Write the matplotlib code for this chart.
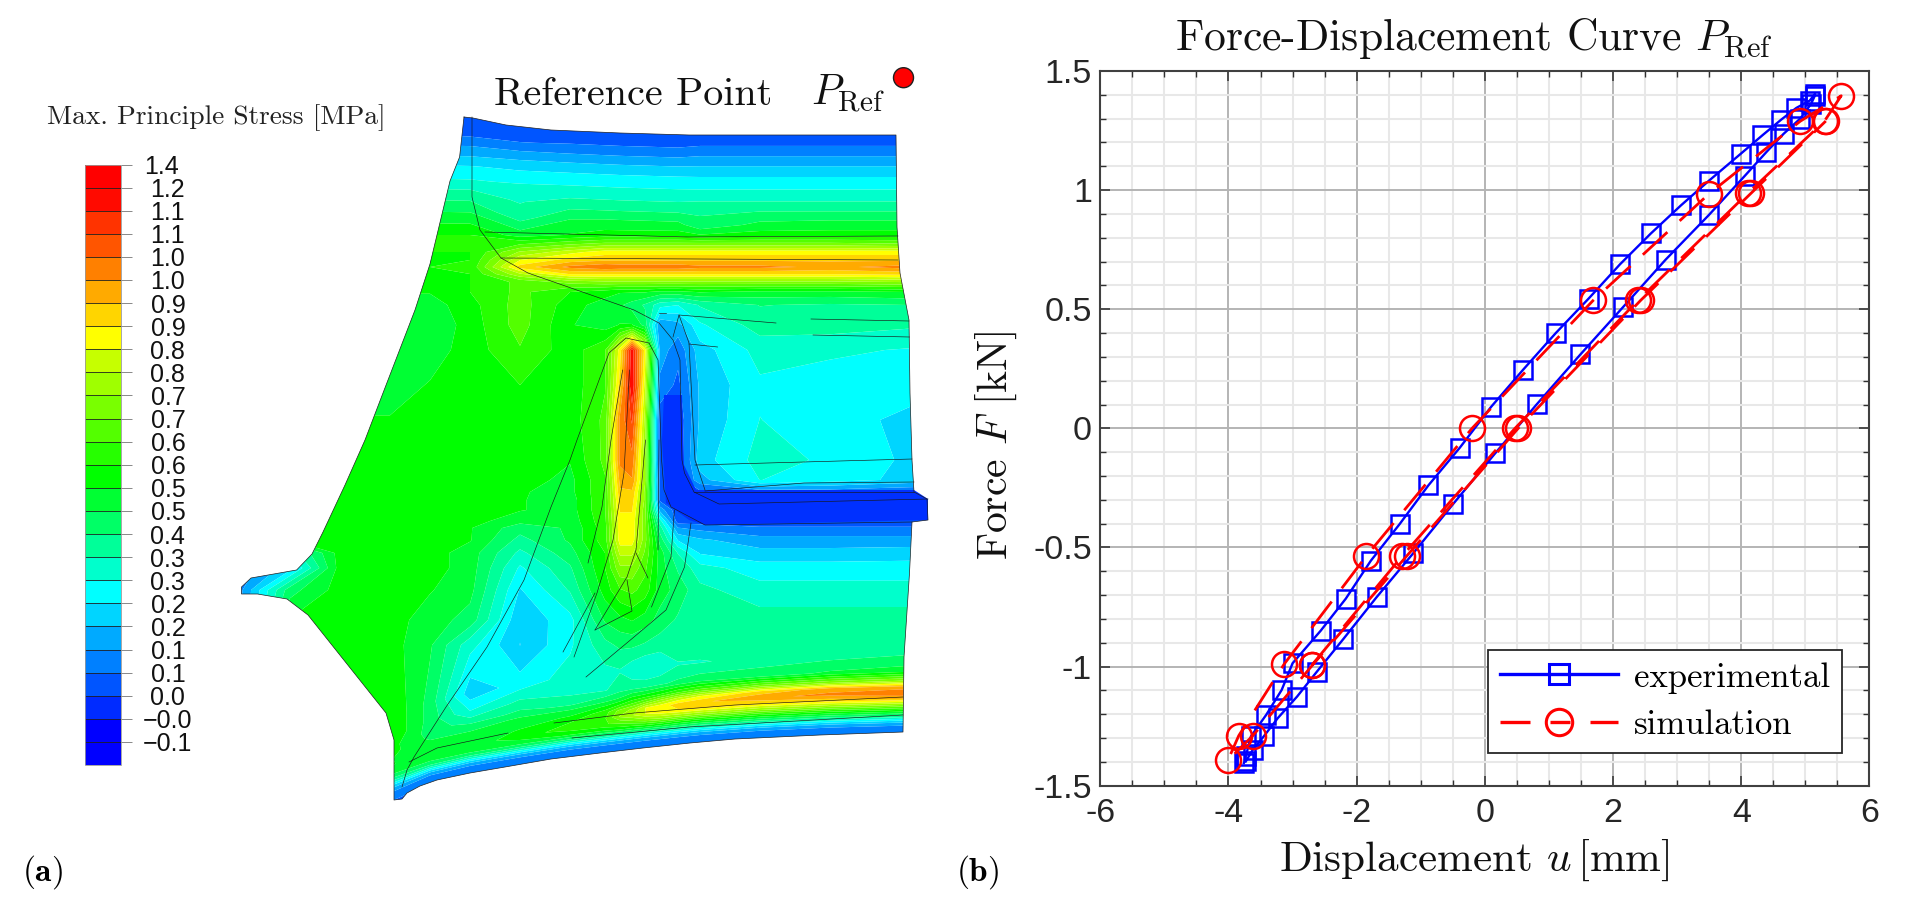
import numpy as np
import matplotlib
matplotlib.use("Agg")
import matplotlib.pyplot as plt
from matplotlib.lines import Line2D
from matplotlib.patches import Polygon, Circle
from matplotlib.transforms import ScaledTranslation

W, H = 1914, 911
plt.rcParams['axes.unicode_minus'] = False
plt.rcParams['mathtext.fontset'] = 'cm'
plt.rcParams['axes.formatter.use_mathtext'] = True
SANS = 'Liberation Sans'
CM = 'cmr10'

# ---------------- force-displacement data ----------------
exp_u = [-3.76, -3.73, -3.65, -3.41, -3.17, -3.00, -2.56, -2.17, -1.78, -1.33, -0.88, -0.39,
         0.10, 0.60, 1.11, 1.62, 2.11, 2.59, 3.06, 3.49, 3.99, 4.33, 4.62, 4.86, 5.07, 5.15,
         5.15, 5.09, 4.92, 4.66, 4.39, 4.06, 3.49, 2.82, 2.16, 1.49, 0.81, 0.16,
         -0.49, -1.12, -1.69, -2.21, -2.62, -2.93, -3.23, -3.45, -3.62, -3.73]
exp_F = [-1.405, -1.377, -1.293, -1.202, -1.098, -0.986, -0.849, -0.715, -0.556, -0.402, -0.239, -0.081,
         0.091, 0.247, 0.401, 0.545, 0.689, 0.818, 0.936, 1.038, 1.152, 1.230, 1.295, 1.345, 1.376, 1.404,
         1.397, 1.362, 1.300, 1.236, 1.159, 1.061, 0.894, 0.708, 0.510, 0.310, 0.101, -0.105,
         -0.316, -0.525, -0.709, -0.885, -1.021, -1.126, -1.216, -1.293, -1.349, -1.398]
sim_u = [-2.70, -1.29, 0.47, 2.39, 4.10, 5.30, 5.56, 4.92, 3.50, 1.69, -0.20, -1.85, -3.13, -3.84, -4.01,
         -3.62, -2.69, -1.22, 0.52, 2.43, 4.15, 5.32]
sim_F = [-0.994, -0.536, 0.0, 0.537, 0.986, 1.29, 1.396, 1.289, 0.985, 0.537, 0.0, -0.536, -0.989, -1.29, -1.394,
         -1.29, -0.994, -0.536, 0.0, 0.537, 0.986, 1.29]
xticks = [-6, -4, -2, 0, 2, 4, 6]
yticks = [-1.5, -1, -0.5, 0, 0.5, 1, 1.5]
yticklabels = ['-1.5', '-1', '-0.5', '0', '0.5', '1', '1.5']

# ---------------- stress contour data ----------------
levels = [-0.16, -0.10, -0.046, 0.008, 0.063, 0.117, 0.171, 0.225, 0.279, 0.334, 0.388, 0.442, 0.496,
          0.55, 0.605, 0.659, 0.713, 0.767, 0.821, 0.876, 0.93, 0.984, 1.038, 1.092, 1.146, 1.20, 1.40]
band_colors = ['#0000ff', '#0000ff', '#002bff', '#0055ff', '#0080ff', '#00aaff', '#00d5ff', '#00ffff',
               '#00ffcc', '#00ff99', '#00ff66', '#00ff33', '#00ff00', '#26ff00', '#53ff00', '#79ff00',
               '#9fff00', '#c6ff00', '#ffff00', '#ffd500', '#ffaa00', '#ff8000', '#ff5500', '#ff3300',
               '#ff0a00', '#ff0000']
cbar_labels = ['\u22120.1', '\u22120.0', '0.0', '0.1', '0.1', '0.2', '0.2', '0.3', '0.3', '0.4', '0.5', '0.5',
               '0.6', '0.6', '0.7', '0.7', '0.8', '0.8', '0.9', '0.9', '1.0', '1.0', '1.1', '1.1', '1.2', '1.4']

stations = [240, 290, 340, 390, 430, 470, 520, 570, 605, 620, 632, 645, 660, 678, 700, 760, 830, 930]
top_x = [240, 464, 473, 506, 551, 620, 689, 896, 930]
top_y = [117, 117, 118, 125, 130, 133, 135, 135, 135]
bot_x = [240, 394, 402, 407, 420, 437, 470, 505, 551, 600, 643, 690, 735, 820, 903, 930]
bot_y = [800, 800, 799, 793, 786, 780, 773, 767, 759, 753, 748, 743, 739, 735, 732, 732]
below_top = [-6, 3, 15, 25, 35, 47, 60, 75, 90]
mid_rows = [235, 244, 252, 260, 267, 274, 282, 292, 305, 325, 350, 385, 420, 460, 480, 492, 500, 510, 521,
            528, 540, 553, 568, 590, 620, 645]
above_bot = [80, 62, 52, 46, 40, 34, 28, 22, 17, 13, 9, 4, -6]

stress_top = [
    [3, 3, 3, 3, 3, 3, 3, 3, 3, 3, 3, 3, 3, 3, 3, 3, 3, 3],
    [3, 3, 3, 3, 3, 3, 3, 3, 3, 3, 3, 3, 3, 3, 3, 3, 3, 3],
    [5, 5, 5, 5, 5, 4, 6, 7, 7, 7, 7, 7, 7, 7, 8, 8, 8, 8],
    [10, 10, 10, 10, 10, 10, 12, 13, 13, 13, 13, 13, 13, 13, 14, 14, 14, 14],
    [15, 15, 15, 15, 15, 15, 18, 19, 19, 19, 19, 19, 19, 19, 19, 19, 19, 19],
    [22, 22, 22, 22, 22, 22, 24, 25, 25, 25, 25, 25, 25, 25, 25, 25, 25, 25],
    [27, 27, 27, 27, 27, 27, 29, 30, 30, 30, 30, 30, 30, 30, 30, 30, 30, 30],
    [35, 35, 35, 35, 35, 35, 33, 37, 37, 37, 37, 37, 37, 37, 38, 38, 38, 38],
    [42, 42, 42, 42, 42, 42, 36, 45, 46, 46, 46, 46, 46, 46, 40, 46, 47, 47],
]
stress_mid = [
    [55, 55, 55, 55, 55, 55, 47, 50, 52, 52, 52, 52, 52, 52, 50, 52, 52, 52],
    [57, 57, 57, 57, 57, 57, 60, 65, 68, 68, 68, 68, 68, 68, 68, 68, 68, 66],
    [55, 55, 55, 55, 55, 55, 72, 80, 85, 85, 85, 85, 85, 85, 85, 85, 85, 85],
    [55, 55, 55, 55, 55, 55, 82, 90, 92, 92, 92, 92, 92, 92, 92, 92, 92, 92],
    [55, 55, 55, 55, 55, 56, 90, 100, 103, 102, 102, 102, 102, 102, 100, 100, 97, 102],
    [55, 55, 55, 55, 55, 55, 76, 88, 88, 88, 88, 88, 88, 88, 88, 88, 88, 90],
    [52, 52, 52, 52, 52, 55, 62, 68, 70, 70, 70, 70, 70, 70, 70, 70, 70, 72],
    [50, 50, 50, 50, 50, 55, 62, 55, 52, 50, 50, 50, 48, 48, 50, 48, 48, 50],
    [47, 47, 47, 47, 47, 53, 63, 52, 47, 45, 42, 38, 30, 28, 34, 39, 38, 39],
    [45, 45, 45, 45, 45, 52, 63, 50, 47, 50, 50, 42, 12, 15, 27, 36, 36, 34],
    [47, 47, 47, 47, 47, 52, 60, 52, 60, 85, 118, 85, 15, 8, 20, 30, 29, 27],
    [47, 47, 47, 47, 50, 52, 55, 52, 60, 90, 120, 80, 10, 5, 18, 27, 25, 24],
    [50, 50, 50, 50, 52, 52, 52, 52, 62, 100, 110, 75, 3, 2, 18, 28, 25, 20],
    [50, 50, 50, 52, 52, 52, 52, 50, 62, 100, 102, 72, 3, 2, 20, 30, 27, 20],
    [50, 50, 50, 52, 52, 52, 52, 48, 60, 95, 98, 72, 5, 3, 15, 28, 25, 20],
    [50, 50, 50, 52, 52, 52, 50, 48, 60, 92, 92, 70, 5, 3, 5, 8, 8, 5],
    [50, 50, 50, 52, 52, 52, 50, 47, 60, 90, 90, 70, 5, 2, 2, 3, 3, 2],
    [50, 50, 50, 52, 52, 52, 50, 47, 60, 88, 88, 68, 15, 2, 2, 3, 3, 2],
    [50, 50, 50, 52, 52, 52, 46, 46, 59, 86, 86, 68, 30, 3, 3, 3, 3, 3],
    [50, 50, 50, 52, 52, 50, 41, 45, 58, 86, 86, 68, 36, 12, 10, 7, 7, 7],
    [50, 50, 50, 52, 52, 50, 37, 45, 58, 85, 85, 68, 42, 22, 18, 14, 14, 14],
    [10, 30, 52, 52, 52, 47, 32, 42, 55, 78, 78, 65, 47, 33, 22, 19, 19, 20],
    [8, 20, 52, 52, 52, 47, 27, 38, 55, 70, 70, 62, 47, 38, 30, 25, 25, 25],
    [10, 42, 52, 52, 50, 46, 22, 34, 52, 60, 62, 58, 47, 42, 35, 30, 30, 30],
    [10, 50, 52, 52, 47, 42, 18, 26, 45, 48, 50, 47, 42, 38, 36, 36, 36, 36],
    [10, 50, 52, 52, 45, 30, 17, 27, 37, 40, 40, 38, 36, 36, 36, 36, 36, 36],
]
stress_bot = [
    [50, 50, 55, 55, 42, 19, 25, 30, 32, 33, 30, 28, 28, 33, 33, 35, 36, 38],
    [50, 50, 55, 55, 42, 28, 35, 33, 33, 36, 36, 36, 38, 40, 42, 42, 45, 47],
    [50, 50, 52, 52, 42, 36, 40, 38, 42, 45, 50, 52, 55, 60, 63, 68, 70, 72],
    [50, 50, 52, 52, 43, 42, 45, 45, 50, 55, 60, 65, 72, 78, 82, 90, 95, 95],
    [50, 50, 50, 50, 45, 45, 48, 50, 58, 68, 72, 82, 85, 90, 92, 97, 100, 105],
    [48, 48, 50, 50, 47, 47, 50, 55, 60, 72, 76, 82, 85, 87, 88, 88, 90, 95],
    [48, 48, 48, 48, 48, 47, 52, 58, 60, 62, 65, 70, 72, 72, 72, 72, 72, 72],
    [40, 40, 40, 40, 45, 47, 48, 50, 50, 52, 52, 53, 53, 52, 52, 52, 52, 52],
    [30, 30, 30, 30, 38, 38, 38, 38, 38, 38, 38, 38, 38, 38, 38, 38, 38, 38],
    [20, 20, 20, 20, 25, 25, 25, 25, 25, 25, 25, 25, 25, 25, 25, 25, 25, 25],
    [14, 14, 14, 14, 14, 14, 14, 14, 14, 14, 14, 14, 14, 14, 14, 14, 14, 14],
    [8, 8, 8, 8, 8, 8, 8, 8, 8, 8, 8, 8, 8, 8, 8, 8, 8, 8],
    [5, 5, 5, 5, 5, 5, 5, 5, 5, 5, 5, 5, 5, 5, 5, 5, 5, 5],
]

# part geometry (picture coordinates)
outline_x = [464, 473, 506, 551, 620, 689, 896, 897, 900, 909, 910, 912, 914, 927, 928, 912, 909.5, 904, 903,
             820, 735, 690, 643, 600, 551, 505, 470, 437, 420, 407, 402, 394, 394, 386, 308, 287, 257.5, 241.5, 241.5, 251,
             296.6, 312, 323, 345, 365, 383, 415, 430, 443, 450, 459.6]
outline_y = [117, 118, 125, 130, 133, 135, 135, 227, 273, 320, 393, 460, 492, 499, 520, 522, 573, 657, 732,
             735, 739, 743, 748, 753, 759, 767, 773, 780, 786, 793, 799, 800, 740, 713, 615, 599, 594, 594, 587, 578,
             570, 554, 532, 485, 440, 393, 310, 264, 210, 181, 157]
flange_x = [664, 682, 684, 696, 914, 928, 928, 705, 689, 666, 662]
flange_y = [395, 395, 465, 490, 490, 499, 520, 525, 520, 503, 440]
feature_lines = [
    [(472, 117), (472, 197), (480, 230), (501, 258), (528, 273), (634, 310), (659, 323), (673, 340), (680, 360),
     (682, 460), (684.5, 473), (694, 492), (719, 504), (928, 499)],
    [(485, 232), (689, 237), (898, 236)],
    [(501, 258), (898, 260)],
    [(659, 313), (666, 313)],
    [(673, 337), (679, 315), (776, 323)],
    [(679, 315), (689, 343), (695, 460), (705, 490)],
    [(811, 319), (909, 321)],
    [(813, 335), (909.5, 337)],
    [(689, 344), (717.6, 347)],
    [(402, 787), (407, 770), (414, 757), (446, 707), (487, 647), (524, 580), (551, 507), (570, 460), (577, 440),
     (609, 353), (626, 338), (649, 343), (658, 360), (661.6, 460), (664, 490), (671, 507), (705, 525), (912, 522)],
    [(622.6, 370), (611, 440), (602, 507), (588, 563)],
    [(595, 593), (563, 652)],
    [(629.5, 370), (624, 473), (613, 540), (597, 593), (574, 657)],
    [(645.5, 440), (636, 550), (627, 577), (595, 630)],
    [(636, 553), (648, 578)],
    [(627, 580), (632, 611), (595, 630)],
    [(659, 440), (658, 550)],
    [(674.4, 510), (671, 557), (651.5, 607)],
    [(691, 523), (684.5, 567), (666, 610), (634, 637), (586, 677)],
    [(695, 465), (912, 459)],
    [(705, 491), (804, 483), (914, 482)],
    [(694, 492), (914, 492)],
    [(554, 723), (634, 713), (735, 705), (903, 697)],
    [(572, 738), (689, 727), (903, 715)],
    [(508, 733), (437, 748), (409, 762)],
]

# ---------------- figure ----------------
fig = plt.figure(figsize=(W / 100, H / 100), dpi=100, facecolor='white')

ax_l = fig.add_axes([0, 0, 1, 1])
ax_l.set_xlim(0, W)
ax_l.set_ylim(H, 0)
ax_l.axis('off')

sx = np.array(stations, float)
t = np.interp(sx, top_x, top_y)
b = np.interp(sx, bot_x, bot_y)
Y = np.vstack([t + d for d in below_top] + [np.full_like(sx, y) for y in mid_rows] + [b - d for d in above_bot])
X = np.tile(sx, (Y.shape[0], 1))
V = np.array(stress_top + stress_mid + stress_bot, float) / 100.0

cs = ax_l.contourf(X, Y, V, levels=levels, colors=band_colors, antialiased=True)
clip = Polygon(np.column_stack([outline_x, outline_y]), closed=True, transform=ax_l.transData)
cs.set_clip_path(clip)
ax_l.add_patch(Polygon(np.column_stack([flange_x, flange_y]), closed=True, fc='#0030ff', ec='none', zorder=2))
for seg in feature_lines:
    xs, ys = zip(*seg)
    ax_l.plot(xs, ys, color='#181818', lw=0.45, zorder=3)
ax_l.plot(outline_x + outline_x[:1], outline_y + outline_y[:1], color='#202020', lw=0.5, zorder=3)

ax_l.add_patch(Circle((903.5, 77.7), 10, fc='#ff0000', ec='#202020', lw=1, zorder=4))
ax_l.text(494, 105, 'Reference Point', family=CM, fontsize=28.9, ha='left', va='baseline', color='#111111')
ax_l.text(811, 105, r'$P_{\mathrm{Ref}}$', fontsize=30, ha='left', va='baseline', color='#111111')
ax_l.text(47, 124, 'Max. Principle Stress [MPa]', family=CM, fontsize=19.8, ha='left', va='baseline', color='#222222')
ax_l.text(22, 881, r'$(\mathbf{a})$', fontsize=24, ha='left', va='baseline', color='black')
ax_l.text(956, 881, r'$(\mathbf{b})$', fontsize=24, ha='left', va='baseline', color='black')

# colour bar
cax = fig.add_axes([85.3 / W, 1 - 765 / H, 35.4 / W, 600.5 / H])
cbar = fig.colorbar(cs, cax=cax, drawedges=True)
cbar.dividers.set_color('#202020')
cbar.dividers.set_linewidth(0.6)
cbar.outline.set_edgecolor('#999999')
cbar.outline.set_linewidth(0.6)
cbar.set_ticks(levels[1:])
cbar.set_ticklabels(cbar_labels, fontsize=18, family=SANS, ha='center')
cbar.minorticks_off()
cax.tick_params(axis='y', which='major', length=8, width=0.7, color='#888888', pad=26, labelcolor='#111111')
top_lbl = cax.get_yticklabels()[-1]
top_lbl.set_transform(top_lbl.get_transform() + ScaledTranslation(-6 / 100, 0, fig.dpi_scale_trans))

# force-displacement axes
L, R, T, B = 1100.3, 1869.4, 71, 785.7
ax = fig.add_axes([L / W, 1 - B / H, (R - L) / W, (B - T) / H])
ax.set_xlim(-6, 6)
ax.set_ylim(-1.5, 1.5)
ax.set_xticks(xticks)
ax.set_xticklabels([str(v) for v in xticks], family=SANS, fontsize=24.5, color='#262626')
ax.set_yticks(yticks)
ax.set_yticklabels(yticklabels, family=SANS, fontsize=24.5, color='#262626')
ax.set_xticks(np.arange(-6, 6.01, 0.5), minor=True)
ax.set_yticks(np.arange(-1.5, 1.51, 0.1), minor=True)
ax.grid(True, which='minor', color='#e8e8e8', lw=1.5, zorder=0)
ax.grid(True, which='major', color='#b4b4b4', lw=1.4, zorder=1)
ax.set_axisbelow(True)
ax.tick_params(which='major', direction='in', top=True, right=True, length=7, width=1.1, color='#303030')
ax.tick_params(axis='x', which='major', pad=9)
ax.tick_params(axis='y', which='major', pad=6)
ax.tick_params(which='minor', direction='in', top=True, right=True, length=4, width=1.0, color='#303030')
for s in ax.spines.values():
    s.set_edgecolor('#404040')
    s.set_linewidth(1.5)

ax.plot(exp_u, exp_F, color='#0000ff', lw=1.7, marker='s', ms=13.5, mfc='none', mew=1.8, zorder=4)
ax.plot(sim_u, sim_F, color='#ff0000', lw=2.0, ls=(0, (12, 6)), marker='o', ms=18, mfc='none', mew=1.8, zorder=5)

ax.set_title(r'Force-Displacement Curve $P_{\mathrm{Ref}}$', family=CM, fontsize=31.4, pad=15, color='#111111', x=0.486)
ax.set_xlabel(r'Displacement $u\,$[mm]', family=CM, fontsize=31, labelpad=6, color='#111111', x=0.486)
ax.set_ylabel(r'Force $F$ [kN]', family=CM, fontsize=30, labelpad=10, color='#111111', y=0.476)

h1 = Line2D([], [], color='#0000ff', lw=2.4, marker='s', ms=14, mfc='none', mew=2.2)
h2 = Line2D([], [], color='#ff0000', lw=2.4, ls=(0, (9, 6, 6, 6, 9)), marker='o', ms=19, mfc='none', mew=2.2)
leg = ax.legend([h1, h2], ['experimental', 'simulation'], prop={'family': CM, 'size': 25},
                loc='lower right', bbox_to_anchor=((1842 - L) / (R - L), (B - 753) / (B - T)),
                borderaxespad=0, numpoints=1, handlelength=3.4, handletextpad=0.45, borderpad=0.35,
                labelspacing=0.45, fancybox=False, framealpha=1, edgecolor='#262626')
leg.get_frame().set_linewidth(1.3)
leg.set_zorder(10)

fig.savefig('out.png', dpi=100)
